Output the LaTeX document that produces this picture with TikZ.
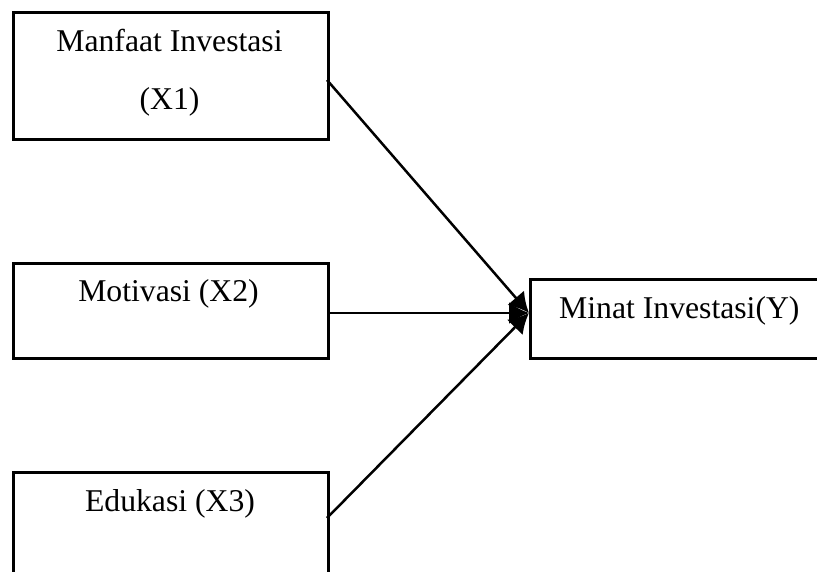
\documentclass[tikz,border=0pt]{standalone}
\usepackage{fontspec}
\setmainfont{Liberation Serif}
\usetikzlibrary{arrows.meta}
\begin{document}
\begin{tikzpicture}[x=1pt,y=-1pt,
  box/.style={draw=black,line width=2.6pt,minimum width=#1,inner sep=0pt,anchor=north west,rectangle},
  lbl/.style={anchor=base,inner sep=0pt,font=\fontsize{31.7}{38}\selectfont},
  conn/.style={line width=2.5pt,-{Latex[length=20pt,width=22pt]}}]
\useasboundingbox (0,0) rectangle (817,571);
\clip (0,0) rectangle (817,571);
\node[box=315pt,minimum height=127pt] (b1) at (12,11) {};
\node[box=315pt,minimum height=95pt] (b2) at (12,262) {};
\node[box=315pt,minimum height=130pt] (b3) at (12,471) {};
\node[box=310pt,minimum height=79pt] (by) at (529,278) {};
\node[lbl] (t1) at (169.5,51.7) {Manfaat Investasi};
\node[lbl] (t1b) at (169.5,109) {(X1)};
\node[lbl] (t2) at (168.5,301.7) {Motivasi (X2)};
\node[lbl] (t3) at (170,511.7) {Edukasi (X3)};
\node[lbl,anchor=base west] (ty) at (559,318) {Minat Investasi(Y)};
\coordinate (s1) at (327,80);
\coordinate (s2) at (327,313);
\coordinate (s3) at (327,518);
\coordinate (e) at (529,313);
\draw[conn] (s1) -- (e);
\draw[conn] (s2) -- (e);
\draw[conn] (s3) -- (e);
\end{tikzpicture}
\end{document}
